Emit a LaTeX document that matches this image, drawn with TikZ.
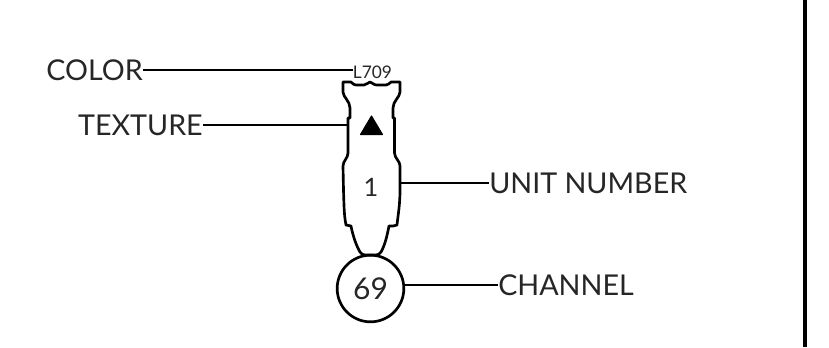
\documentclass[tikz,border=0pt]{standalone}
\usepackage{fontspec}
\setmainfont{Lato}
\usetikzlibrary{positioning}
\tikzset{
  partlabel/.style={inner sep=0pt, font=\fontsize{21.5}{24}\selectfont, text=black!85},
  leader/.style={line width=1.1pt},
  outline/.style={line width=2pt, line join=round, line cap=round}
}
\begin{document}
\begin{tikzpicture}[x=0.75pt, y=-0.75pt]
    % Fix page size to the reference
    \useasboundingbox (0,0) rectangle (829,347);

    % Draw right border
    \draw[line width=3pt] (805,0) -- (805,347);

    % Draw marker outline
    \draw[outline] (343,82) -- (351,82) .. controls (353,84) and (354,85) .. (356,85)
        -- (364,85) .. controls (367,85) and (368,82) .. (370,82)
        .. controls (372,82) and (373,85) .. (377,85) -- (386,85)
        .. controls (388,85) and (390,83) .. (391,82) -- (400,82)
        -- (400,92) .. controls (400,97) and (393,101) .. (393,108) -- (393,118)
        -- (394.5,118) -- (394.5,153) .. controls (394.5,158) and (400,161) .. (400,166)
        -- (400,190) .. controls (400,205) and (398,215) .. (397,225) -- (393,226)
        -- (389,226) .. controls (387,236) and (385,245) .. (381,252)
        .. controls (380,254) and (378,255) .. (376,255) -- (365,255)
        .. controls (363,255) and (361,254) .. (360,252)
        .. controls (356,245) and (353,236) .. (351,226) -- (346,225)
        .. controls (344,215) and (344,205) .. (343.5,190) -- (343,166)
        .. controls (343,161) and (348,158) .. (348,153) -- (348,118)
        -- (350,118) -- (350,108) .. controls (350,101) and (343,97) .. (343,92) -- cycle;

    % Draw triangle and texts inside
    \fill[black, line join=round, draw=black, line width=0.8pt] (371.5,116) -- (382.5,134.5) -- (360.5,134.5) -- cycle;
    \node[inner sep=0pt, font=\fontsize{13}{15}\selectfont, text=black!85] (code) at (372.5,72) {L709};
    \node[inner sep=0pt, font=\fontsize{19}{21}\selectfont, text=black!85] (unit) at (371,187) {1};

    % Draw channel circle
    \node[circle, draw, line width=2pt, minimum size=50pt, inner sep=0pt,
          font=\fontsize{22.5}{25}\selectfont, text=black!85] (chan) at (370.5,288.5) {69};

    % Draw labels
    \node[partlabel, anchor=east] (color) at (143,70) {COLOR};
    \node[partlabel, anchor=east] (texture) at (203,125) {TEXTURE};
    \node[partlabel, anchor=west] (number) at (489,183) {UNIT NUMBER};
    \node[partlabel, anchor=west] (channel) at (498,285) {CHANNEL};

    % Draw leaders
    \coordinate (bodyleft) at (348,125);
    \coordinate (bodyright) at (400,183);
    \draw[leader] (color.east) -- (code.west |- color.east);
    \draw[leader] (texture.east) -- (bodyleft);
    \draw[leader] (bodyright) -- (number.west);
    \draw[leader] (chan.east |- channel.west) -- (channel.west);
\end{tikzpicture}
\end{document}
